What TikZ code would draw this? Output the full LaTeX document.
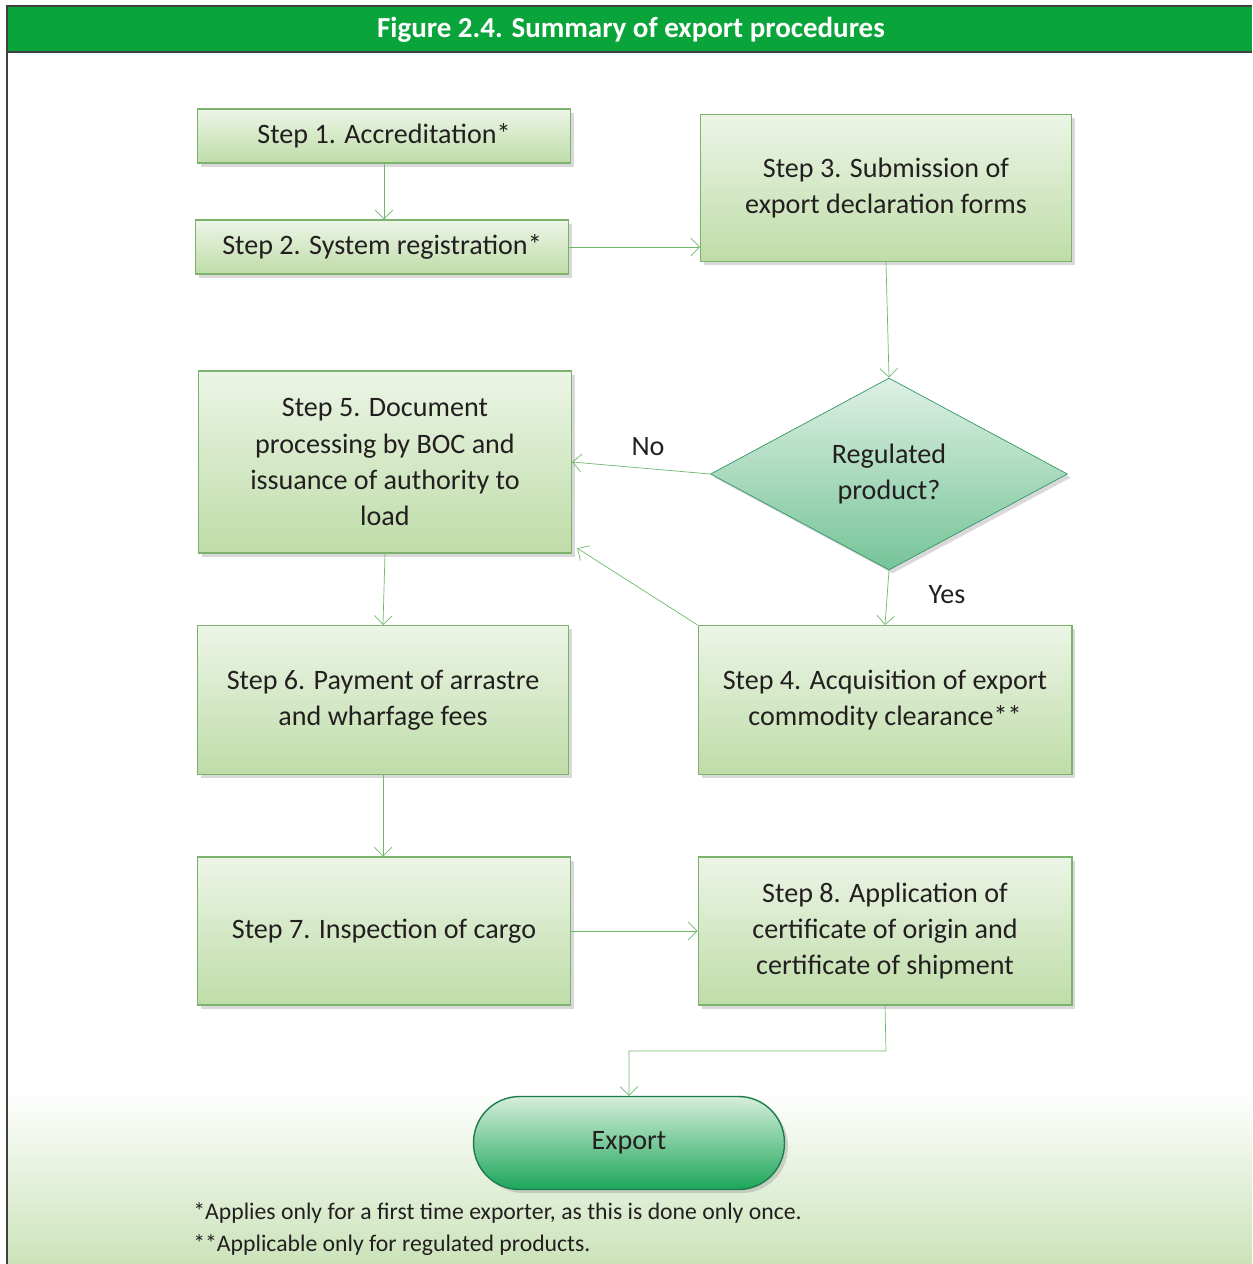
\documentclass[tikz,border=0pt]{standalone}
\usepackage{fontspec}
\setmainfont{Carlito}
\usetikzlibrary{shapes.geometric,shadows,arrows.meta}

\definecolor{headgreen}{RGB}{10,165,58}
\definecolor{boxtop}{RGB}{236,245,230}
\definecolor{boxbot}{RGB}{190,220,168}
\definecolor{boxline}{RGB}{125,178,110}
\definecolor{dectop}{RGB}{222,240,228}
\definecolor{decbot}{RGB}{118,196,152}
\definecolor{decline}{RGB}{50,150,105}
\definecolor{exptop}{RGB}{214,238,218}
\definecolor{expbot}{RGB}{28,166,90}
\definecolor{expline}{RGB}{30,125,80}
\definecolor{linkgreen}{RGB}{110,185,105}
\definecolor{inkgray}{RGB}{35,31,32}

\tikzset{
  box/.style={rectangle, draw=boxline, semithick, top color=boxtop, bottom color=boxbot,
    drop shadow={shadow xshift=2pt, shadow yshift=-2pt, opacity=0.3},
    text=inkgray, align=center, inner sep=2pt,
    font=\fontsize{16}{20.5}\selectfont},
  decision/.style={diamond, draw=decline, top color=dectop, bottom color=decbot,
    drop shadow={shadow xshift=2pt, shadow yshift=-2pt, opacity=0.3},
    text=inkgray, align=center, inner sep=0pt,
    font=\fontsize{16}{20.5}\selectfont},
  terminal/.style={rectangle, rounded corners=0.92cm, draw=expline, thick,
    top color=exptop, bottom color=expbot,
    drop shadow={shadow xshift=2pt, shadow yshift=-2pt, opacity=0.3},
    text=inkgray, font=\fontsize{16}{20.5}\selectfont},
  flowarrow/.style={draw=linkgreen, -{Straight Barb[length=5pt, width=10pt]}},
  note/.style={text=inkgray, anchor=west, inner sep=0pt,
    font=\fontsize{13.5}{16}\selectfont}
}

\begin{document}
\begin{tikzpicture}[x=0.02cm, y=-0.02cm]
    \useasboundingbox (0,0) rectangle (1252,1264);

    % Frame, header bar and faded green footer
    \shade[top color=white, bottom color=boxbot!80] (7,1090) rectangle (1252,1264);
    \fill[headgreen] (7,6) rectangle (1252,52);
    \draw[black!75, line width=0.8pt] (1252,6) -- (7,6) -- (7,1264);
    \draw[black!75, line width=0.8pt] (7,52) -- (1252,52);
    \node[text=white, font=\fontsize{16.5}{18}\bfseries] (title) at (631,30)
        {Figure 2.4. Summary of export procedures};

    % Steps
    \node[box, minimum width=7.48cm, minimum height=1.08cm] (step1) at (384,136)
        {Step 1. Accreditation*};
    \node[box, minimum width=7.48cm, minimum height=1.08cm] (step2) at (382,247)
        {Step 2. System registration*};
    \node[box, minimum width=7.42cm, minimum height=2.94cm] (step3) at (886,188)
        {Step 3. Submission of\\export declaration forms};
    \node[decision, minimum width=7.14cm, minimum height=3.84cm] (regulated) at (889,474)
        {Regulated\\product?};
    \node[box, minimum width=7.46cm, minimum height=3.64cm] (step5) at (385,462)
        {Step 5. Document\\processing by BOC and\\issuance of authority to\\load};
    \node[box, minimum width=7.44cm, minimum height=2.98cm] (step6) at (383,700)
        {Step 6. Payment of arrastre\\and wharfage fees};
    \node[box, minimum width=7.48cm, minimum height=2.98cm] (step4) at (885,700)
        {Step 4. Acquisition of export\\commodity clearance**};
    \node[box, minimum width=7.48cm, minimum height=2.96cm] (step7) at (384,931)
        {Step 7. Inspection of cargo};
    \node[box, minimum width=7.48cm, minimum height=2.96cm] (step8) at (885,931)
        {Step 8. Application of\\certificate of origin and\\certificate of shipment};
    \node[terminal, minimum width=6.22cm, minimum height=1.86cm] (export) at (629,1143)
        {Export};

    % Connectors
    \draw[flowarrow] (step1.south) -- (step1.south |- step2.north);
    \draw[flowarrow] (step2.east) -- (step2.east -| step3.west);
    \draw[flowarrow] (step3.south) -- (regulated.north);
    \draw[flowarrow] (regulated.west) -- (step5.east)
        node[pos=0.45, above=4pt, text=inkgray, font=\fontsize{16}{18}\selectfont] (no) {No};
    \draw[flowarrow] (regulated.south) -- (step4.north)
        node[pos=0.45, right=20pt, text=inkgray, font=\fontsize{16}{18}\selectfont] (yes) {Yes};
    \draw[flowarrow] (step4.north west) -- ([xshift=3pt, yshift=3pt]step5.south east);
    \draw[flowarrow] (step5.south) -- (step6.north);
    \draw[flowarrow] (step6.south) -- (step6.south |- step7.north);
    \draw[flowarrow] (step7.east) -- (step8.west);
    \coordinate (bend) at (886,1051);
    \draw[flowarrow] (step8.south) -- (bend) -| (export.north);

    % Footnotes
    \node[note] (note1) at (193,1213)
        {*Applies only for a first time exporter, as this is done only once.};
    \node[note] (note2) at (193,1245)
        {**Applicable only for regulated products.};
\end{tikzpicture}
\end{document}
